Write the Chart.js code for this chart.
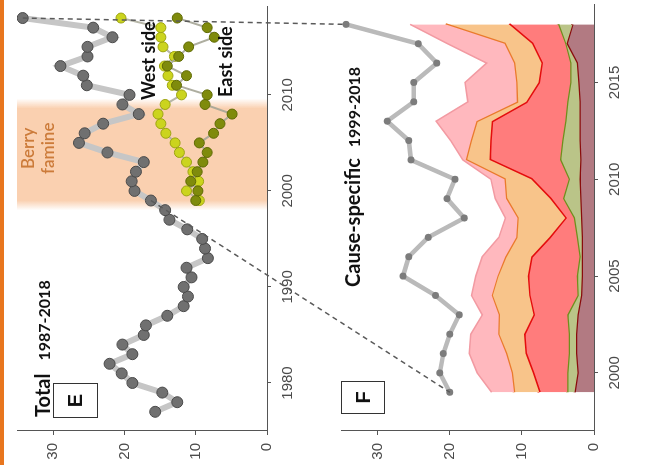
<!DOCTYPE html>
<html>
<head>
<meta charset="utf-8">
<script src="https://cdn.jsdelivr.net/npm/chart.js@4.4.1/dist/chart.umd.min.js"></script>
<style>
html, body { margin: 0; padding: 0; background: #fff; overflow: hidden; }
#page { position: absolute; left: 0; top: 0; width: 465px; height: 654px; background: #fff;
        transform-origin: 0 0; transform: translateY(465px) rotate(-90deg); }
#page canvas { position: absolute; left: 0; }
.lbl { position: absolute; white-space: nowrap; font-family: Lato, "Liberation Sans", sans-serif;
       font-weight: bold; color: #111; line-height: 1; }
.box { position: absolute; box-sizing: border-box; border: 1.5px solid #333; display: flex;
       align-items: center; justify-content: center; font: bold 20px "Liberation Sans", sans-serif; color: #111; }
#stripe { position: absolute; left: 0; top: 0; width: 465px; height: 4px; background: #e8761e; }
</style>
</head>
<body>
<div id="page">
  <canvas id="chartE" width="465" height="320" style="top:0"></canvas>
  <canvas id="chartF" width="465" height="334" style="top:320px"></canvas>
  <canvas id="links" width="465" height="654" style="top:0"></canvas>
  <div id="stripe"></div>

  <div class="lbl" style="left:48px;top:32px"><span style="font-size:20px">Total</span><span style="font-size:16px;margin-left:13px">1987-2018</span></div>
  <div class="box" style="left:47px;top:53px;width:35px;height:45px">E</div>
  <div class="lbl" style="left:291px;top:18px;font-weight:600;color:#cc7b3a;font-size:17px;line-height:20px;text-align:center">Berry<br>famine</div>
  <div class="lbl" style="left:365px;top:139px;font-size:18px">West side</div>
  <div class="lbl" style="left:368px;top:216px;font-size:18px">East side</div>

  <div class="lbl" style="left:178px;top:342px"><span style="font-size:20px">Cause-specific</span><span style="font-size:16px;margin-left:11px">1999-2018</span></div>
  <div class="box" style="left:51px;top:341px;width:33px;height:44px">F</div>
</div>

<script>
// ---- data ----
const yearsE = [1977, 1978, 1979, 1980, 1981, 1982, 1983, 1984, 1985, 1986, 1987, 1988, 1989, 1990,
                1991, 1992, 1993, 1994, 1995, 1996, 1997, 1998, 1999, 2000, 2001, 2002, 2003, 2004,
                2005, 2006, 2007, 2008, 2009, 2010, 2011, 2012, 2013, 2014, 2015, 2016, 2017, 2018];
const totalE = [15.7, 12.6, 14.7, 18.9, 20.4, 22.1, 18.9, 20.3, 17.3, 17.0, 14.0, 11.7, 11.1, 11.7,
                10.6, 11.3, 8.3, 8.7, 9.1, 11.2, 13.7, 14.3, 16.3, 18.6, 19.0, 18.4, 17.3, 22.4,
                26.4, 25.6, 23.0, 18.0, 20.3, 19.3, 25.3, 25.8, 29.0, 25.2, 25.2, 21.7, 24.4, 34.3];

const yearsSides = [1999, 2000, 2001, 2002, 2003, 2004, 2005, 2006, 2007, 2008,
                    2009, 2010, 2011, 2012, 2013, 2014, 2015, 2016, 2017, 2018];
const westSide = [9.5, 11.3, 9.6, 10.4, 11.3, 12.3, 12.9, 14.2, 14.9, 15.3,
                  14.3, 12.0, 13.3, 13.9, 14.4, 13.0, 14.6, 14.9, 14.9, 20.5];
const eastSide = [10.0, 9.7, 10.7, 9.8, 9.0, 8.4, 9.5, 7.5, 6.6, 4.9,
                  8.7, 8.4, 12.7, 11.3, 14.0, 12.4, 11.0, 7.4, 8.4, 12.6];

const yearsF = [1999, 2000, 2001, 2002, 2003, 2004, 2005, 2006, 2007, 2008,
                2009, 2010, 2011, 2012, 2013, 2014, 2015, 2016, 2017, 2018];
const totalF = [20.0, 21.4, 20.9, 20.0, 18.7, 22.0, 26.5, 25.7, 23.0, 18.0,
                20.4, 19.3, 25.4, 25.7, 28.7, 25.0, 25.0, 21.8, 24.4, 34.4];
// cumulative upper edges of the cause-specific bands, bottom to top
const causeDarkRed = [2.7, 2.3, 2.5, 2.5, 2.3, 1.8, 1.7, 1.7, 1.7, 1.8,
                      1.9, 2.0, 1.9, 2.0, 2.0, 2.0, 2.2, 2.4, 3.8, 3.0];
const causeOlive   = [3.7, 3.7, 3.5, 3.5, 3.7, 2.3, 2.4, 2.0, 2.4, 2.8,
                      4.3, 3.5, 4.7, 4.4, 4.0, 3.7, 3.3, 3.3, 4.0, 5.0];
const causeRed     = [7.6, 8.5, 9.5, 9.7, 8.4, 9.0, 9.2, 8.7, 6.2, 4.0,
                      6.1, 8.7, 14.5, 14.4, 14.2, 9.4, 7.7, 7.3, 8.6, 11.8];
const causeOrange  = [11.1, 11.4, 12.2, 13.3, 13.2, 14.2, 13.4, 12.3, 10.8, 10.6,
                      12.2, 12.4, 17.8, 17.1, 16.3, 10.7, 10.8, 11.1, 12.4, 20.6];
const causePink    = [14.2, 16.2, 17.3, 17.1, 15.5, 17.0, 16.4, 15.5, 13.2, 12.3,
                      13.7, 14.3, 18.2, 19.9, 21.9, 17.5, 17.9, 14.9, 20.3, 25.5];

const valueTicks = [0, 10, 20, 30];
const yearTicksE = [1980, 1990, 2000, 2010];
const yearTicksF = [2000, 2005, 2010, 2015];
const famineYears = [1998.5, 2009.1];
const linkYears = [1999, 2018];

const F_TOP = 320; // offset of the F canvas inside the page

const pts = (xs, ys) => xs.map((x, i) => ({ x: x, y: ys[i] }));
const tickFont = { family: '"Liberation Sans", Arial, sans-serif', size: 15 };

function axes(xMin, xMax, yearTicks, xHeight) {
    return {
        x: {
            type: 'linear', min: xMin, max: xMax,
            afterBuildTicks: s => { s.ticks = yearTicks.map(v => ({ value: v })); },
            afterFit: s => { s.height = xHeight; },
            grid: { drawOnChartArea: false, drawTicks: true, tickLength: 4, color: '#555' },
            border: { display: true, color: '#555', width: 1 },
            ticks: { font: tickFont, color: '#4a4a4a', padding: 8, maxRotation: 0, callback: v => String(v) }
        },
        y: {
            min: 0, max: 35.1,
            afterBuildTicks: s => { s.ticks = valueTicks.map(v => ({ value: v })); },
            afterFit: s => { s.width = 34; },
            grid: { drawOnChartArea: false, drawTicks: true, tickLength: 4, color: '#555' },
            border: { display: true, color: '#555', width: 1 },
            ticks: { font: tickFont, color: '#4a4a4a', padding: 8 }
        }
    };
}

const famineBand = {
    id: 'famineBand',
    beforeDatasetsDraw(chart) {
        const { ctx, chartArea: a, scales: { x } } = chart;
        const x0 = x.getPixelForValue(famineYears[0]);
        const x1 = x.getPixelForValue(famineYears[1]);
        const soft = 5;
        const w = x1 - x0 + 2 * soft;
        const g = ctx.createLinearGradient(x0 - soft, 0, x1 + soft, 0);
        g.addColorStop(0, 'rgba(250,208,176,0)');
        g.addColorStop(2 * soft / w, 'rgba(250,208,176,1)');
        g.addColorStop(1 - 2 * soft / w, 'rgba(250,208,176,1)');
        g.addColorStop(1, 'rgba(250,208,176,0)');
        ctx.save();
        ctx.fillStyle = g;
        ctx.fillRect(x0 - soft, a.top, w, a.bottom - a.top);
        ctx.restore();
    }
};

const common = {
    responsive: false,
    animation: false,
    events: [],
    plugins: { legend: { display: false }, tooltip: { enabled: false } }
};

const chartE = new Chart(document.getElementById('chartE'), {
    type: 'line',
    data: {
        datasets: [
            {
                data: pts(yearsSides, eastSide), order: 1,
                borderColor: 'rgba(165,165,150,0.9)', borderWidth: 2,
                pointRadius: 5, pointBackgroundColor: '#7f8b0c', pointBorderColor: '#5f6a04', pointBorderWidth: 1
            },
            {
                data: pts(yearsSides, westSide), order: 2,
                borderColor: 'rgba(175,175,160,0.9)', borderWidth: 2,
                pointRadius: 5, pointBackgroundColor: '#cbd41e', pointBorderColor: '#9da412', pointBorderWidth: 1
            },
            {
                data: pts(yearsE, totalE), order: 3,
                borderColor: '#c6c6c6', borderWidth: 6,
                pointRadius: 5.5, pointBackgroundColor: '#707070', pointBorderColor: '#4a4a4a', pointBorderWidth: 1
            }
        ]
    },
    options: {
        ...common,
        layout: { padding: { top: 13, right: 2, left: 0, bottom: 0 } },
        scales: axes(1975, 2019.2, yearTicksE, 53)
    },
    plugins: [famineBand]
});

const band = (data, fill, bg, line, width, order) => ({
    data: pts(yearsF, data), fill: fill, order: order,
    backgroundColor: bg, borderColor: line, borderWidth: width, pointRadius: 0
});

const chartF = new Chart(document.getElementById('chartF'), {
    type: 'line',
    data: {
        datasets: [
            band(causeDarkRed, 'origin', 'rgb(178,122,130)', '#8a0c0c', 2.5, 6),
            band(causeOlive, '-1', 'rgb(186,196,136)', '#6f8f1c', 2.5, 5),
            band(causeRed, '-1', 'rgb(255,124,124)', '#e40d0d', 3, 4),
            band(causeOrange, '-1', 'rgb(248,196,138)', '#ea7a2c', 2.5, 3),
            band(causePink, '-1', 'rgb(255,184,190)', '#f29aa2', 1.5, 2),
            {
                data: pts(yearsF, totalF), order: 1,
                borderColor: '#bababa', borderWidth: 4.5,
                pointRadius: 3.5, pointBackgroundColor: '#7c7c7c', pointBorderColor: '#7c7c7c', pointBorderWidth: 0
            }
        ]
    },
    options: {
        ...common,
        layout: { padding: { top: 21, right: 5, left: 0, bottom: 0 } },
        scales: axes(1997, 2019, yearTicksF, 60)
    }
});

// dashed connectors between the two panels
function drawLinks() {
    const ctx = document.getElementById('links').getContext('2d');
    ctx.save();
    ctx.setLineDash([5, 4]);
    ctx.strokeStyle = '#5a5a5a';
    ctx.lineWidth = 1.5;
    for (const yr of linkYears) {
        const vE = totalE[yearsE.indexOf(yr)];
        const vF = totalF[yearsF.indexOf(yr)];
        const ax = chartE.scales.x.getPixelForValue(yr);
        const ay = chartE.scales.y.getPixelForValue(vE);
        const bx = chartF.scales.x.getPixelForValue(yr);
        const by = chartF.scales.y.getPixelForValue(vF) + F_TOP;
        ctx.beginPath();
        ctx.moveTo(ax, ay);
        ctx.lineTo(bx, by);
        ctx.stroke();
    }
    ctx.restore();
}
drawLinks();
</script>
</body>
</html>
